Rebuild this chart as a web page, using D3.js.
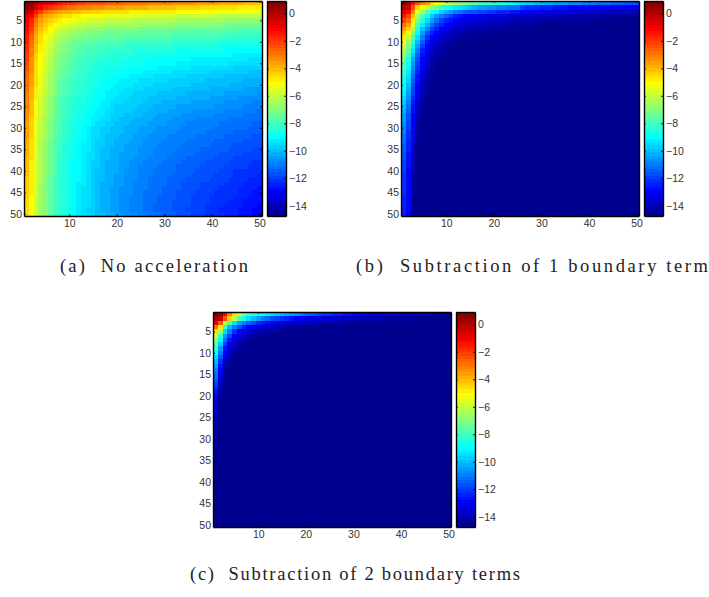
<!DOCTYPE html>
<html>
<head>
<meta charset="utf-8">
<script src="https://cdn.jsdelivr.net/npm/d3@7"></script>
<style>
  html, body { margin: 0; padding: 0; background: #fff; }
  svg { display: block; }
  .tick text { font-family: "Liberation Sans", sans-serif; font-size: 10.5px; fill: #333; }
  .caption { font-family: "Liberation Serif", serif; font-size: 18.5px; fill: #222; }
</style>
</head>
<body>
<div id="plot"></div>
<script>
// colour level (0-63 of the jet map) per cell, one string per matrix row.
// rows stop early where the rest of the row sits on level 0
let heatA = [
"63 62 60 58 57 56 55 54 53 52 52 51 51 50 50 50 50 49 49 49 49 48 48 48 48 48 47 47 47 47 47 46 46 46 46 46 45 45 45 45 45 44 44 44 44 44 43 43 43 43",
"62 61 58 55 53 52 51 50 49 48 48 47 47 47 46 46 46 45 45 45 45 44 44 44 44 44 43 43 43 43 43 43 42 42 42 42 42 41 41 41 41 41 41 41 41 40 40 40 40 40",
"59 58 54 51 48 47 46 45 44 44 43 43 42 42 42 42 41 41 41 41 41 41 40 40 40 40 40 40 40 40 40 40 39 39 39 39 39 39 39 39 39 38 38 38 38 38 38 38 38 38",
"57 55 51 47 45 44 43 42 41 41 40 40 39 39 39 39 39 38 38 38 38 38 38 37 37 37 37 37 37 37 37 36 36 36 36 36 36 36 36 36 35 35 35 35 35 35 35 35 35 35",
"56 53 48 45 43 42 41 40 39 38 38 37 37 36 36 36 36 35 35 35 35 35 35 34 34 34 34 34 34 34 34 34 33 33 33 33 33 33 33 33 33 33 32 32 32 32 32 32 32 32",
"55 52 47 44 42 40 39 38 37 36 36 35 35 34 34 34 34 33 33 33 33 33 33 33 33 32 32 32 32 32 32 32 31 31 31 31 31 31 31 31 31 31 30 30 30 30 30 30 30 30",
"55 51 46 43 41 39 37 36 35 34 34 33 33 32 32 32 32 31 31 31 31 31 31 31 30 30 30 30 30 30 30 30 30 29 29 29 29 29 29 29 29 29 29 29 28 28 28 28 28 28",
"54 50 45 42 40 38 36 35 34 33 33 32 32 31 31 31 30 30 30 30 30 30 30 30 29 29 29 29 29 29 29 28 28 28 28 28 28 28 28 28 28 28 28 27 27 27 27 27 27 27",
"53 49 44 41 39 37 35 34 33 32 31 31 30 30 30 30 29 29 29 29 29 28 28 28 28 28 28 28 28 28 28 27 27 27 27 27 27 27 27 27 27 27 26 26 26 26 26 26 26 26",
"53 48 44 41 38 36 34 33 32 31 30 30 29 29 29 28 28 28 28 28 28 27 27 27 27 27 27 27 27 27 27 26 26 26 26 26 26 26 26 26 26 25 25 25 25 25 25 25 25 25",
"52 48 43 40 38 36 34 32 31 30 30 29 28 28 28 27 27 27 27 27 27 26 26 26 26 26 26 26 26 26 26 25 25 25 25 25 25 25 25 25 25 24 24 24 24 24 24 24 24 24",
"52 47 43 40 37 35 33 32 31 30 29 28 28 27 27 27 27 26 26 26 26 26 26 25 25 25 25 25 25 25 25 25 24 24 24 24 24 24 24 24 24 24 23 23 23 23 23 23 23 23",
"51 47 42 39 37 35 33 31 30 29 28 28 27 27 27 26 26 26 25 25 25 25 25 25 24 24 24 24 24 24 24 24 24 23 23 23 23 23 23 23 23 23 23 23 22 22 22 22 22 22",
"51 46 42 39 36 34 32 31 30 29 28 27 27 26 26 26 25 25 25 25 25 24 24 24 24 24 24 23 23 23 23 23 23 23 23 22 22 22 22 22 22 22 22 22 22 22 22 21 21 21",
"50 46 41 39 36 34 32 31 30 29 28 27 27 26 26 25 25 25 25 25 24 24 24 24 24 23 23 23 23 23 23 23 22 22 22 22 22 22 22 22 22 22 22 21 21 21 21 21 21 21",
"50 46 41 39 36 34 32 31 29 28 28 27 26 26 25 25 25 24 24 24 24 24 23 23 23 23 23 23 22 22 22 22 22 22 22 21 21 21 21 21 21 21 21 21 20 20 20 20 20 20",
"49 46 41 38 36 34 32 30 29 28 27 27 26 26 25 25 24 24 24 24 23 23 23 23 23 22 22 22 22 22 22 21 21 21 21 21 21 21 21 20 20 20 20 20 20 20 20 19 19 19",
"49 45 41 38 35 33 31 30 29 28 27 26 26 25 25 25 24 24 23 23 23 23 22 22 22 22 22 21 21 21 21 21 21 21 20 20 20 20 20 20 20 20 19 19 19 19 19 19 19 19",
"48 45 41 38 35 33 31 30 28 27 27 26 26 25 25 24 24 23 23 23 22 22 22 22 21 21 21 21 21 21 20 20 20 20 20 20 20 20 19 19 19 19 19 19 19 19 18 18 18 18",
"48 45 41 38 35 33 31 29 28 27 27 26 26 25 25 24 23 23 23 22 22 22 22 21 21 21 21 20 20 20 20 20 20 20 20 19 19 19 19 19 19 19 19 18 18 18 18 18 18 18",
"48 44 40 37 35 33 31 29 28 27 26 26 25 25 24 24 23 23 22 22 22 21 21 21 21 20 20 20 20 20 20 19 19 19 19 19 19 19 19 18 18 18 18 18 18 18 17 17 17 17",
"47 44 40 37 35 33 31 29 28 27 26 26 25 25 24 23 23 22 22 22 21 21 21 20 20 20 20 20 19 19 19 19 19 19 18 18 18 18 18 18 18 18 17 17 17 17 17 17 17 16",
"47 44 40 37 34 32 30 29 27 26 26 25 25 24 24 23 23 22 22 21 21 21 20 20 20 20 19 19 19 19 19 19 18 18 18 18 18 18 18 17 17 17 17 17 17 16 16 16 16 16",
"47 43 39 36 34 32 30 28 27 26 26 25 25 24 23 23 22 22 21 21 21 20 20 20 20 19 19 19 19 18 18 18 18 18 18 17 17 17 17 17 17 17 16 16 16 16 16 16 15 15",
"47 43 39 36 34 32 30 28 27 26 25 25 24 24 23 23 22 22 21 20 20 20 20 20 19 19 19 18 18 18 18 18 17 17 17 17 17 17 17 17 16 16 16 16 16 16 15 15 15 15",
"46 43 39 36 34 32 30 28 27 26 25 25 24 24 23 22 22 21 21 20 20 20 20 19 19 19 18 18 18 18 17 17 17 17 17 16 16 16 16 16 16 16 15 15 15 15 15 15 15 14",
"46 43 39 36 34 32 30 28 27 26 25 24 24 23 23 22 22 21 20 20 20 19 19 19 19 18 18 18 17 17 17 17 17 16 16 16 16 16 16 16 15 15 15 15 15 15 14 14 14 14",
"46 42 38 35 33 31 29 28 27 25 25 24 24 23 22 22 21 21 20 20 19 19 19 18 18 18 18 17 17 17 17 16 16 16 16 16 15 15 15 15 15 15 15 14 14 14 14 14 14 14",
"45 42 38 35 33 31 29 28 26 25 25 24 23 23 22 21 21 20 20 19 19 19 18 18 18 18 17 17 17 17 16 16 16 16 15 15 15 15 15 15 15 14 14 14 14 14 14 14 13 13",
"45 42 38 35 33 31 29 28 26 26 25 24 23 22 21 21 20 20 19 19 19 18 18 18 17 17 17 17 16 16 16 16 16 15 15 15 15 15 15 15 14 14 14 14 14 14 14 13 13 13",
"45 42 38 35 33 31 29 28 26 25 24 24 23 22 21 21 20 20 19 19 19 18 18 18 17 17 17 16 16 16 16 16 15 15 15 15 15 15 14 14 14 14 14 14 13 13 13 13 13 13",
"45 42 38 35 33 31 29 27 26 25 24 24 23 22 21 21 20 19 19 19 18 18 18 17 17 17 16 16 16 16 15 15 15 15 15 15 14 14 14 14 14 14 13 13 13 13 13 13 12 12",
"44 41 38 34 32 30 28 27 26 25 24 23 23 22 21 20 20 19 19 18 18 18 17 17 17 16 16 16 16 15 15 15 15 15 14 14 14 14 14 14 13 13 13 13 13 13 12 12 12 12",
"44 41 38 34 32 30 28 27 25 25 24 23 22 22 21 20 20 19 19 18 18 17 17 17 17 16 16 16 15 15 15 15 15 14 14 14 14 14 14 13 13 13 13 13 12 12 12 12 12 12",
"44 41 38 34 32 30 28 27 25 25 24 23 22 22 21 20 19 19 18 18 18 17 17 17 16 16 16 15 15 15 15 15 14 14 14 14 14 13 13 13 13 13 13 12 12 12 12 12 11 11",
"44 41 37 34 32 30 28 27 25 24 24 23 22 21 21 20 19 19 18 18 17 17 17 17 16 16 16 15 15 15 15 14 14 14 14 14 13 13 13 13 13 12 12 12 12 12 11 11 11 11",
"43 41 37 34 32 30 28 26 25 24 24 23 22 21 21 20 19 19 18 18 17 17 17 16 16 16 15 15 15 15 14 14 14 14 13 13 13 13 13 13 12 12 12 12 11 11 11 11 11 11",
"43 40 37 34 32 30 28 26 25 24 23 23 22 21 20 20 19 18 18 18 17 17 16 16 16 15 15 15 15 14 14 14 14 13 13 13 13 13 12 12 12 12 12 11 11 11 11 11 10 10",
"43 40 37 34 32 30 28 26 25 24 23 23 22 21 20 20 19 18 18 18 17 17 16 16 15 15 15 15 14 14 14 14 13 13 13 13 13 12 12 12 12 12 11 11 11 11 11 10 10 10",
"43 40 37 34 32 30 28 26 25 24 23 23 22 21 20 19 19 18 18 18 17 16 16 16 15 15 15 14 14 14 14 14 13 13 13 13 12 12 12 12 12 11 11 11 10 10 10 10 10 10",
"43 40 37 34 32 30 28 26 25 24 23 23 22 21 20 19 19 18 18 17 17 16 16 16 15 15 15 14 14 14 14 13 13 13 13 12 12 12 12 12 11 11 11 11 10 10 10 10 10 9",
"42 40 37 34 31 29 27 26 25 24 23 23 22 21 20 19 19 18 18 17 17 16 16 16 15 15 14 14 14 14 13 13 13 13 12 12 12 12 12 11 11 11 11 10 10 10 10 9 9 9",
"42 40 37 33 31 29 27 26 25 24 23 22 22 21 20 19 18 18 18 17 17 16 16 15 15 15 14 14 14 14 13 13 13 12 12 12 12 11 11 11 11 11 10 10 10 10 9 9 9 9",
"42 40 37 33 31 29 27 26 25 24 23 22 21 21 20 19 18 18 17 17 16 16 16 15 15 15 14 14 14 13 13 13 13 12 12 12 12 11 11 11 11 10 10 10 10 9 9 9 9 8",
"42 40 37 33 31 29 27 26 25 24 23 22 21 21 20 19 18 18 17 17 16 16 16 15 15 14 14 14 14 13 13 13 12 12 12 12 11 11 11 11 10 10 10 10 10 9 9 9 8 8",
"42 39 37 33 31 29 27 26 25 24 23 22 21 21 20 19 18 18 17 17 16 16 15 15 15 14 14 14 13 13 13 13 12 12 12 11 11 11 11 10 10 10 10 10 9 9 9 8 8 8",
"41 39 36 33 31 29 27 26 25 24 23 22 21 21 20 19 18 18 17 17 16 16 15 15 15 14 14 14 13 13 13 12 12 12 12 11 11 11 11 10 10 10 10 9 9 9 8 8 8 8",
"41 39 36 33 31 29 27 26 25 24 23 22 21 21 20 19 18 18 17 17 16 16 15 15 15 14 14 13 13 13 13 12 12 12 12 11 11 11 10 10 10 10 9 9 9 9 8 8 8 7",
"41 39 36 33 31 29 27 26 25 24 23 22 21 20 20 19 18 18 17 17 16 16 15 15 15 14 14 13 13 13 13 12 12 12 11 11 11 11 10 10 10 9 9 9 9 8 8 8 7 7",
"41 39 36 33 31 29 27 26 25 24 23 22 21 21 20 19 19 18 18 17 17 16 16 16 15 15 14 14 14 13 13 13 12 12 12 11 11 11 10 10 10 10 9 9 9 8 8 8 7 7"
]

let heatB = [
"63 60 54 50 47 45 41 39 37 35 34 33 32 31 30 29 28 27 27 26 26 25 24 23 22 21 20 20 19 19 18 18 17 17 17 16 16 16 15 15 15 14 14 14 13 13 13 12 12 12",
"59 58 50 42 38 35 32 29 26 24 23 22 21 20 19 18 17 17 16 16 15 15 14 14 14 11 10 10 10 9 9 9 8 8 8 7 7 7 7 7 6 6 6 6 6 6 6 6 6 5",
"57 55 46 38 33 28 25 23 20 18 17 15 14 13 12 12 11 11 10 10 9 9 9 8 8 7 7 7 6 6 6 6 5 5 5 5 5 4 4 4 4 4 4 3 3 3 3 3 3 3",
"54 51 43 34 28 24 20 17 15 13 11 9 8 7 7 7 6 6 6 5 5 5 5 4 4 4 4 4 3 3 3 3 3 3 2 2 2 2 2 2 2 2 1 1 1 1 1 1 1 1",
"51 48 40 31 25 21 17 14 11 9 8 7 6 5 5 5 4 4 4 3 3 3 3 2 2 2 2 2 2 1 1 1 1 1 1 1 1 1 1",
"48 45 37 28 22 18 14 11 9 7 6 5 4 4 3 3 3 3 2 2 2 2 1 1 1 1 1 1 1",
"45 42 34 25 19 15 11 9 7 6 4 3 3 2 2 2 2 1 1 1 1 1 1 1",
"42 38 31 23 17 12 9 7 5 4 3 2 2 1 1 1 1 1",
"40 35 28 21 15 10 7 5 4 3 2 1 1 1",
"38 33 26 19 13 8 6 4 3 2 1 1",
"36 31 24 17 11 7 5 3 2 1 1",
"35 29 22 15 9 6 4 2 1 1",
"33 27 20 13 8 5 3 1 1",
"31 25 18 12 7 4 2 1",
"29 24 17 11 7 4 2 1",
"28 23 16 10 6 3 1",
"27 22 15 9 5 2 1",
"25 21 14 8 5 2",
"24 20 13 8 4 1",
"23 19 12 7 3 1",
"23 18 11 7 3 1",
"22 17 11 6 2",
"21 16 10 6 2",
"20 15 9 5 1",
"19 14 8 4 1",
"18 13 8 3 1",
"17 12 7 3",
"17 12 7 2",
"16 11 6 2",
"15 11 6 1",
"15 10 5 1",
"14 10 5 1",
"14 9 4",
"13 9 4",
"13 9 3",
"12 8 3",
"12 8 3",
"11 8 2",
"11 8 2",
"11 7 2",
"10 7 1",
"10 7 1",
"10 7 1",
"10 7 1",
"10 7 1",
"9 7",
"9 7",
"9 7",
"9 7",
"9 7"
]

let heatC = [
"63 61 55 47 41 35 31 28 25 24 23 22 21 20 19 18 17 16 15 14 13 12 11 10 10 9 9 8 8 7 7 6 6 5 5 5 4 4 4 3 3 3 2 2 2 2 1 1 1 1",
"61 59 50 42 35 28 24 21 19 17 15 14 12 11 10 9 8 7 7 6 6 5 5 5 4 4 4 3 3 3 3 2 2 2 2 2 1 1 1 1 1 1 1",
"56 50 35 28 21 17 15 13 11 9 8 7 6 5 5 4 4 3 3 2 2 2 2 1 1 1 1 1",
"48 40 27 19 15 12 9 7 6 5 4 3 3 2 2 1 1 1",
"41 33 21 15 10 7 6 4 3 2 2 1 1",
"36 27 17 11 7 5 3 2 1 1",
"32 23 14 8 5 3 2 1",
"29 20 11 7 3 2 1",
"26 17 8 5 2 1",
"23 15 7 3 1",
"21 12 5 2",
"19 10 3 1",
"17 8 2 1",
"15 7 1",
"14 5 1",
"13 4",
"11 3",
"10 2",
"8 1",
"7 1",
"6","5","5","4","3","3","2","2","2","1","1","1","1","1","1"
]

let xTicks = [10, 20, 30, 40, 50]
let yTicks = [5, 10, 15, 20, 25, 30, 35, 40, 45, 50]
let barTicks = [0, -2, -4, -6, -8, -10, -12, -14]
let barRange = [-14.75, 0.9]
let captions = [
  "(a)  No acceleration",
  "(b)  Subtraction of 1 boundary term",
  "(c)  Subtraction of 2 boundary terms"
]

let svgWidth = 709
let svgHeight = 597
let plotW = 238
let plotH = 215

let svg = d3.select("#plot")
  .append("svg")
  .attr("width", svgWidth)
  .attr("height", svgHeight)

// matlab jet, 64 steps
function jet(k) {
  let r = k <= 23 ? 0 : k <= 39 ? (k - 23) / 16 : k <= 55 ? 1 : 1 - (k - 55) / 16
  let g = k <= 7 ? 0 : k <= 23 ? (k - 7) / 16 : k <= 39 ? 1 : k <= 55 ? 1 - (k - 39) / 16 : 0
  let b = k <= 7 ? 0.5625 + k / 16 : k <= 23 ? 1 : k <= 39 ? 1 - (k - 23) / 16 : 0
  return d3.rgb(r * 255, g * 255, b * 255).formatHex()
}

function styleAxis(g) {
  g.selectAll(".domain").attr("stroke", "#000").attr("stroke-width", 1.4)
  g.selectAll(".tick line").attr("stroke", "#000").attr("stroke-width", 0.8)
}

function drawHeat(left, top, rows) {
  let g = svg.append("g").attr("transform", `translate(${left}, ${top})`)

  let cols = d3.scaleBand().domain(d3.range(50)).range([0, plotW])
  let lines = d3.scaleBand().domain(d3.range(50)).range([0, plotH])
  let xScale = d3.scaleLinear().domain([0.5, 50.5]).range([0, plotW])
  let yScale = d3.scaleLinear().domain([0.5, 50.5]).range([0, plotH])

  let cells = []
  d3.range(50).forEach(function(r) {
    let levels = r < rows.length ? rows[r].split(" ").map(Number) : []
    d3.range(50).forEach(function(c) {
      cells.push({r: r, c: c, level: c < levels.length ? levels[c] : 0})
    })
  })

  g.selectAll("rect")
    .data(cells)
    .enter()
    .append("rect")
    .attr("x", d => cols(d.c))
    .attr("y", d => lines(d.r))
    .attr("width", cols.bandwidth())
    .attr("height", lines.bandwidth())
    .attr("shape-rendering", "crispEdges")
    .attr("fill", d => jet(d.level))

  g.append("g")
    .attr("transform", `translate(0, ${plotH})`)
    .call(d3.axisBottom(xScale).tickValues(xTicks).tickSizeInner(-2).tickSizeOuter(0).tickPadding(4))
    .call(styleAxis)
  g.append("g")
    .call(d3.axisTop(xScale).tickValues(xTicks).tickSizeInner(-2).tickSizeOuter(0).tickFormat(""))
    .call(styleAxis)
  g.append("g")
    .call(d3.axisLeft(yScale).tickValues(yTicks).tickSizeInner(-2).tickSizeOuter(0).tickPadding(2))
    .call(styleAxis)
  g.append("g")
    .attr("transform", `translate(${plotW}, 0)`)
    .call(d3.axisRight(yScale).tickValues(yTicks).tickSizeInner(-2).tickSizeOuter(0).tickFormat(""))
    .call(styleAxis)

  // colorbar
  let bar = g.append("g").attr("transform", `translate(${plotW + 5}, 0)`)
  let barW = 19
  let steps = d3.scaleBand().domain(d3.range(64)).range([plotH, 0])
  let barScale = d3.scaleLinear().domain(barRange).range([plotH, 0])

  bar.selectAll("rect")
    .data(d3.range(64))
    .enter()
    .append("rect")
    .attr("x", 0)
    .attr("y", d => steps(d))
    .attr("width", barW)
    .attr("height", steps.bandwidth())
    .attr("shape-rendering", "crispEdges")
    .attr("fill", d => jet(d))

  bar.append("g")
    .attr("transform", `translate(${barW}, 0)`)
    .call(d3.axisRight(barScale).tickValues(barTicks).tickSizeInner(-2).tickSizeOuter(0).tickPadding(3)
      .tickFormat(d => String(d).replace("-", "\u2212")))
    .call(styleAxis)
  bar.append("g")
    .call(d3.axisLeft(barScale).tickValues(barTicks).tickSizeInner(-2).tickSizeOuter(0).tickFormat(""))
    .call(styleAxis)
  bar.append("g")
    .call(d3.axisTop(d3.scaleLinear().range([0, barW])).tickValues([]).tickSizeOuter(0))
    .call(styleAxis)
  bar.append("g")
    .attr("transform", `translate(0, ${plotH})`)
    .call(d3.axisBottom(d3.scaleLinear().range([0, barW])).tickValues([]).tickSizeOuter(0))
    .call(styleAxis)
}

drawHeat(24, 1, heatA)
drawHeat(401, 1, heatB)
drawHeat(213, 312, heatC)

let capPos = [[60, 272, 188], [356, 272, 352], [190, 580, 330]]
captions.forEach(function(t, i) {
  svg.append("text")
    .attr("class", "caption")
    .attr("x", capPos[i][0])
    .attr("y", capPos[i][1])
    .attr("textLength", capPos[i][2])
    .attr("lengthAdjust", "spacing")
    .style("white-space", "pre")
    .text(t)
})
</script>
</body>
</html>
